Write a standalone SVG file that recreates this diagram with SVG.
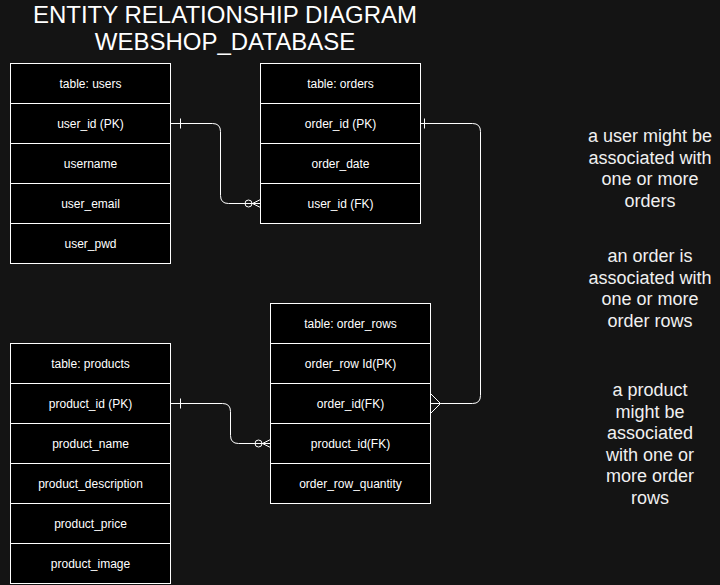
<svg xmlns="http://www.w3.org/2000/svg" width="720" height="585" viewBox="0 0 720 585">
<style>
.cell{fill:#000000;stroke:#ffffff;stroke-width:1}
.t{font-family:"Liberation Sans",Arial,sans-serif;font-size:12px;fill:#ffffff;text-anchor:middle}
.title{font-family:"Liberation Sans",Arial,sans-serif;font-size:24px;fill:#ffffff;text-anchor:middle}
.note{font-family:"Liberation Sans",Arial,sans-serif;font-size:18px;fill:#f0f0f0;text-anchor:middle}
.conn{fill:none;stroke:#ffffff;stroke-width:1}
</style>
<rect x="0" y="0" width="720" height="585" fill="#141414"/>
<g id="title">
<text class="title" x="225" y="23">ENTITY RELATIONSHIP DIAGRAM</text>
<text class="title" x="225" y="50">WEBSHOP_DATABASE</text>
</g>
<g transform="translate(0.5,0.5)">
<g id="connectors">
<path class="conn" d="M170,123 H212 Q220,123 220,131 V195 Q220,203 228,203 H260"/>
<path class="conn" d="M180,118 V128"/>
<circle class="conn" cx="248" cy="203" r="3.5"/>
<path class="conn" d="M252,203 L260,199 M252,203 L260,207"/>
<path class="conn" d="M420,123 H472 Q480,123 480,131 V395 Q480,403 472,403 H440"/>
<path class="conn" d="M424,118 V128"/>
<path class="conn" d="M430,393 L440,403 L430,413 M440,403 H430"/>
<path class="conn" d="M170,403 H222 Q230,403 230,411 V435 Q230,443 238,443 H270"/>
<path class="conn" d="M180,398 V408"/>
<circle class="conn" cx="258" cy="443" r="3.5"/>
<path class="conn" d="M262,443 L270,439 M262,443 L270,447"/>
</g>
<g id="users">
<rect class="cell" x="10" y="63" width="160" height="40"/>
<rect class="cell" x="10" y="103" width="160" height="40"/>
<rect class="cell" x="10" y="143" width="160" height="40"/>
<rect class="cell" x="10" y="183" width="160" height="40"/>
<rect class="cell" x="10" y="223" width="160" height="40"/>
<text class="t" x="90" y="87">table: users</text>
<text class="t" x="90" y="127">user_id (PK)</text>
<text class="t" x="90" y="167">username</text>
<text class="t" x="90" y="207">user_email</text>
<text class="t" x="90" y="247">user_pwd</text>
</g>
<g id="orders">
<rect class="cell" x="260" y="63" width="160" height="40"/>
<rect class="cell" x="260" y="103" width="160" height="40"/>
<rect class="cell" x="260" y="143" width="160" height="40"/>
<rect class="cell" x="260" y="183" width="160" height="40"/>
<text class="t" x="340" y="87">table: orders</text>
<text class="t" x="340" y="127">order_id (PK)</text>
<text class="t" x="340" y="167">order_date</text>
<text class="t" x="340" y="207">user_id (FK)</text>
</g>
<g id="order_rows">
<rect class="cell" x="270" y="303" width="160" height="40"/>
<rect class="cell" x="270" y="343" width="160" height="40"/>
<rect class="cell" x="270" y="383" width="160" height="40"/>
<rect class="cell" x="270" y="423" width="160" height="40"/>
<rect class="cell" x="270" y="463" width="160" height="40"/>
<text class="t" x="350" y="327">table: order_rows</text>
<text class="t" x="350" y="367">order_row Id(PK)</text>
<text class="t" x="350" y="407">order_id(FK)</text>
<text class="t" x="350" y="447">product_id(FK)</text>
<text class="t" x="350" y="487">order_row_quantity</text>
</g>
<g id="products">
<rect class="cell" x="10" y="343" width="160" height="40"/>
<rect class="cell" x="10" y="383" width="160" height="40"/>
<rect class="cell" x="10" y="423" width="160" height="40"/>
<rect class="cell" x="10" y="463" width="160" height="40"/>
<rect class="cell" x="10" y="503" width="160" height="40"/>
<rect class="cell" x="10" y="543" width="160" height="40"/>
<text class="t" x="90" y="367">table: products</text>
<text class="t" x="90" y="407">product_id (PK)</text>
<text class="t" x="90" y="447">product_name</text>
<text class="t" x="90" y="487">product_description</text>
<text class="t" x="90" y="527">product_price</text>
<text class="t" x="90" y="567">product_image</text>
</g>
</g>
<g id="note1">
<text class="note" x="650" y="142">a user might be</text>
<text class="note" x="650" y="163.5">associated with</text>
<text class="note" x="650" y="185">one or more</text>
<text class="note" x="650" y="206.5">orders</text>
</g>
<g id="note2">
<text class="note" x="650" y="262">an order is</text>
<text class="note" x="650" y="283.5">associated with</text>
<text class="note" x="650" y="305">one or more</text>
<text class="note" x="650" y="326.5">order rows</text>
</g>
<g id="note3">
<text class="note" x="650" y="396">a product</text>
<text class="note" x="650" y="417.5">might be</text>
<text class="note" x="650" y="439">associated</text>
<text class="note" x="650" y="460.5">with one or</text>
<text class="note" x="650" y="482">more order</text>
<text class="note" x="650" y="503.5">rows</text>
</g>
</svg>
